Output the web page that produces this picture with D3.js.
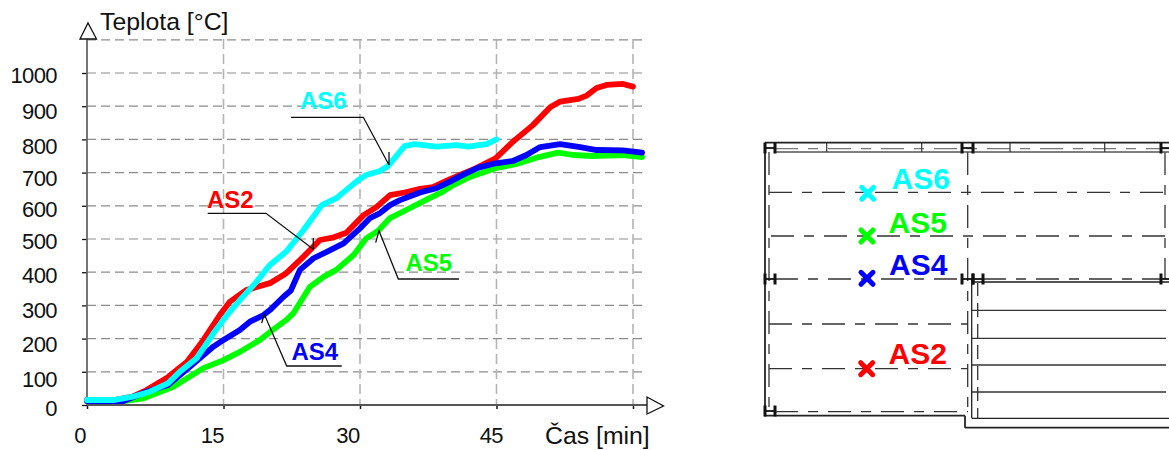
<!DOCTYPE html>
<html>
<head>
<meta charset="utf-8">
<script src="https://d3js.org/d3.v7.min.js"></script>
<style>
html, body { margin: 0; padding: 0; background: #fff; }
text { font-family: "Liberation Sans", Arial, sans-serif; }
</style>
</head>
<body>
<div id="chart"></div>
<script>
// values: [min, deg C]
var as2 = [[0,15],[3,15],[5,25],[6.55,45],[8.9,84],[11,130],[12.8,196],[14.6,271],[15.7,311],[17.5,346],[20.1,367],[21.9,397],[23.8,447],[25.6,497],[27,504],[28.5,519],[30.4,572],[31.8,596],[33.3,632],[34.9,640],[36.4,650],[38,656],[39.9,680],[42.5,710],[44.9,743],[46.8,793],[49,843],[50.9,897],[52,914],[54,922],[54.9,932],[56,955],[57.1,964],[58.9,967],[60,959]];
var as5 = [[0,12],[4,12],[6.2,20],[9.5,55],[12.8,111],[15,135],[16.8,160],[19,196],[20.4,226],[21.9,256],[22.7,277],[24.5,356],[26,386],[27.4,407],[29.3,452],[30.7,502],[32,525],[33.3,563],[34.7,582],[37.7,624],[38.8,638],[40.3,663],[41.9,685],[44.9,713],[47.2,726],[49.4,745],[51.8,760],[53.4,753],[55.6,750],[58.9,753],[61,747]];
var as4 = [[0,12],[4,12],[6.55,40],[8.9,60],[11.3,115],[13.9,176],[15,196],[16.8,226],[17.9,251],[19.4,271],[20.1,286],[21.6,326],[22.4,345],[23.4,407],[24.9,442],[26.4,462],[28.2,487],[30,532],[31.1,563],[32.2,578],[33.3,602],[34.4,617],[36.6,640],[38.4,653],[39.9,673],[41.3,693],[43,715],[44.9,728],[46.8,735],[48.3,753],[49.8,777],[52,786],[54.2,777],[56,768],[58.9,767],[61,760]];
var as6 = [[0,15],[2.9,15],[5.05,25],[6.9,40],[8.9,65],[10.2,100],[12.05,141],[13.9,216],[15.4,271],[16.8,316],[18.5,367],[20.1,422],[21.9,462],[23.8,527],[25.8,602],[27.4,623],[28.5,648],[29.7,675],[30.7,693],[32.2,705],[33.1,720],[34.9,780],[36,786],[38.4,778],[40.6,783],[41.9,778],[43.9,786],[45,800]];

var xTicks = [0,15,30,45,60];
var yTicks = [0,100,200,300,400,500,600,700,800,900,1000];
var yGrid = [100,200,300,400,500,600,700,800,900,1000,1100];

// small shifts of the tick labels against their ticks, as in the original
var xLabelShift = [-7.5,-11.7,-12.5,-5.7,0];
var yLabelShift = [10,14.2,12.4,11.6,9.8,9,10.2,12.4,13.6,11.8,9];

var red = '#ff0000', green = '#00ff00', blue = '#0000ff', cyan = '#00ffff';

var svg = d3.select('#chart')
	.append('svg')
	.attr('width', 1169)
	.attr('height', 450)
	.style('display', 'block');

var xScale = d3.scaleLinear().domain([0,60]).range([87,633]),
	yScale = d3.scaleLinear().domain([0,1100]).range([405,39.8]);

// grid
svg.append('g').selectAll('line')
	.data(yGrid)
	.enter()
	.append('line')
	.attr('x1', 87)
	.attr('x2', 647)
	.attr('y1', d => yScale(d))
	.attr('y2', d => yScale(d))
	.attr('stroke', '#8c8c8c')
	.attr('stroke-width', 1.2)
	.attr('stroke-dasharray', '9,5');

svg.append('g').selectAll('line')
	.data(xTicks.slice(1))
	.enter()
	.append('line')
	.attr('x1', d => xScale(d))
	.attr('x2', d => xScale(d))
	.attr('y1', 39)
	.attr('y2', 405)
	.attr('stroke', '#b4b4b4')
	.attr('stroke-width', 1.6)
	.attr('stroke-dasharray', '10,5');

// axes
var xAxis = d3.axisBottom(xScale)
	.tickValues(xTicks)
	.tickSize(4)
	.tickFormat(d => d == 60 ? '' : d);
var yAxis = d3.axisLeft(yScale)
	.tickValues(yTicks)
	.tickSize(5)
	.tickFormat(d => d);

var gx = svg.append('g')
	.attr('transform', 'translate(0,405)')
	.call(xAxis);
var gy = svg.append('g')
	.attr('transform', 'translate(87,0)')
	.call(yAxis);

gx.select('.domain').remove();
gy.select('.domain').remove();
gx.selectAll('.tick line').attr('stroke', '#111').attr('stroke-width', 1.5);
gy.selectAll('.tick line').attr('stroke', '#111').attr('stroke-width', 1.3);
gx.selectAll('.tick text')
	.attr('font-size', 22)
	.attr('letter-spacing', '-0.6')
	.attr('fill', '#111')
	.attr('dy', 0)
	.attr('y', 38)
	.attr('dx', (d,i) => xLabelShift[i]);
gy.selectAll('.tick text')
	.attr('font-size', 22)
	.attr('letter-spacing', '-0.6')
	.attr('fill', '#111')
	.attr('dy', (d,i) => yLabelShift[i])
	.attr('x', -30);

svg.append('line').attr('x1',87).attr('x2',87).attr('y1',39).attr('y2',405)
	.attr('stroke','#666').attr('stroke-width',1.8);
svg.append('line').attr('x1',87).attr('x2',647).attr('y1',405).attr('y2',405)
	.attr('stroke','#555').attr('stroke-width',1.8);

// arrow heads
svg.append('path').attr('d','M80,39L96.5,39L88,23Z')
	.attr('fill','#fff').attr('stroke','#111').attr('stroke-width',1.3);
svg.append('path').attr('d','M647,397L647,414L663.5,406Z')
	.attr('fill','#fff').attr('stroke','#111').attr('stroke-width',1.3);

svg.append('text').attr('x',100).attr('y',30).attr('font-size',24.8).attr('fill','#111').text('Teplota [°C]');
svg.append('text').attr('x',545).attr('y',444).attr('font-size',24.8).attr('fill','#111').text('Čas [min]');

// curves
var line = d3.line()
	.x(d => xScale(d[0]))
	.y(d => yScale(d[1]));

var curves = [[as2,red],[as5,green],[as4,blue],[as6,cyan]];
svg.append('g').selectAll('path')
	.data(curves)
	.enter()
	.append('path')
	.attr('d', d => line(d[0]))
	.attr('fill', 'none')
	.attr('stroke', d => d[1])
	.attr('stroke-width', 5.8)
	.attr('stroke-linecap', 'round')
	.attr('stroke-linejoin', 'round');

// leaders
var leaders = [
	'M291,117.3L363.3,117.3L389,165L389,152',
	'M207.7,213.3L266,213.3L313.3,249.3L313.3,238',
	'M341.7,366L286.7,366L264.3,314.3L261.7,323',
	'M459,279L398.3,279L379,230.7L375.7,242.7'
];
svg.append('g').selectAll('path')
	.data(leaders)
	.enter()
	.append('path')
	.attr('d', d => d)
	.attr('fill','none')
	.attr('stroke','#111')
	.attr('stroke-width',1.3);

var chartLabels = [['AS6',300,108.5,cyan],['AS2',207,208,red],['AS4',291.5,360,blue],['AS5',405.5,270.5,green]];
svg.append('g').selectAll('text')
	.data(chartLabels)
	.enter()
	.append('text')
	.attr('x', d => d[1])
	.attr('y', d => d[2])
	.attr('fill', d => d[3])
	.attr('font-size', 24)
	.attr('font-weight', 'bold')
	.text(d => d[0]);

// floor plan, right side
var plan = svg.append('g');

function seg(x1,y1,x2,y2,w,col,dash) {
	plan.append('line')
		.attr('x1',x1).attr('y1',y1).attr('x2',x2).attr('y2',y2)
		.attr('stroke',col).attr('stroke-width',w)
		.attr('stroke-dasharray',dash || null);
}

var dashDot = '23,10,10,10';

// axis lines of the plan
[[769,152,769,411],[967.7,152,967.7,411],[1165,152,1165,279]].forEach(d => seg(d[0],d[1],d[2],d[3],1.3,'#333',dashDot));
[[769,192.3,1165,192.3],[771,236,1165,236],[775,279,962,279],[983,279,1160,279],[769,324,968,324],[769,368.7,968,368.7],[775,411.7,968,411.7]]
	.forEach(d => seg(d[0],d[1],d[2],d[3],1.3,'#333',dashDot));
seg(775,148.7,1169,148.7,1.2,'#777',dashDot);
seg(977.7,282,977.7,418,1.3,'#333','14,7');

// walls
seg(765,142.7,765,415.7,1.8,'#222');
seg(765,142.7,1169,142.7,1.8,'#222');
seg(775,152,1169,152,1.4,'#555');
seg(764,415.7,965,415.7,1.8,'#222');
seg(965,415.7,965,427.7,1.8,'#222');
seg(965,427.7,1169,427.7,1.8,'#222');
[826.7,921.7,1010,1104.7].forEach(x => seg(x,142.7,x,152,1.2,'#333'));

// block on the right
seg(972,282,1169,282,1.8,'#555');
seg(971.7,279,971.7,418.3,1.3,'#222');
[310.3,338.3,365,392].forEach(y => seg(972,y,1166,y,1.3,'#333'));
seg(972,418.3,1169,418.3,1.3,'#222');

// column marks
var marks = [[765,775,148],[962,973,148],[1161,1171,148],[765,775,279],[962,973,279],[973,983,279],[1161,1171,279],[765,775,411]];
marks.forEach(d => {
	seg(d[0],d[2],d[1],d[2],1.8,'#111');
	seg(d[0],d[2]-5.5,d[0],d[2]+5.5,3,'#111');
	seg(d[1],d[2]-5.5,d[1],d[2]+5.5,3,'#111');
});

// sensors
var sensors = [['AS6',867.7,193.3,cyan,891.5,189.3],['AS5',867,236,green,888.5,233],['AS4',867,278.3,blue,889,275],['AS2',866.7,368.7,red,888.5,364]];
sensors.forEach(d => {
	var r = 6;
	plan.append('path')
		.attr('d',`M${d[1]-r},${d[2]-r}L${d[1]+r},${d[2]+r}M${d[1]-r},${d[2]+r}L${d[1]+r},${d[2]-r}`)
		.attr('fill','none')
		.attr('stroke',d[3])
		.attr('stroke-width',5)
		.attr('stroke-linecap','round');
	plan.append('text')
		.attr('x',d[4])
		.attr('y',d[5])
		.attr('fill',d[3])
		.attr('font-size',30)
		.attr('font-weight','bold')
		.text(d[0]);
});
</script>
</body>
</html>
